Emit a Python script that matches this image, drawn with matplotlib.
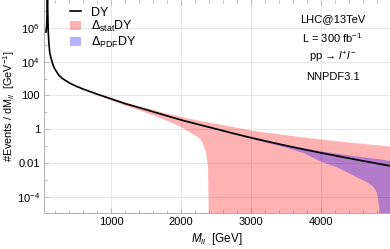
import numpy as np
import matplotlib
matplotlib.use("Agg")
import matplotlib.pyplot as plt
from matplotlib.lines import Line2D
from matplotlib.patches import Patch

plt.rcParams['font.family'] = ['Liberation Sans', 'DejaVu Sans']
plt.rcParams['mathtext.fontset'] = 'custom'
plt.rcParams['mathtext.rm'] = 'Liberation Sans'
plt.rcParams['mathtext.it'] = 'Liberation Sans:italic'

# DY spectrum, events / GeV (log10)
mass = [70, 80, 86, 91, 96, 102, 110, 125, 150, 175, 200, 250, 300, 400, 500,
        600, 700, 800, 1000, 1200, 1500, 1750, 2000, 2250, 2500, 2750, 3000,
        3250, 3500, 3750, 4000, 4250, 4500, 4750, 5000]
dy_log = [5.75, 6.1, 6.8, 8.3, 6.9, 5.9, 5.2, 4.5, 4.1, 3.75, 3.55, 3.22, 3.02,
          2.75, 2.55, 2.38, 2.23, 2.08, 1.8, 1.52, 1.16, 0.85, 0.55, 0.28, 0.02,
          -0.25, -0.5, -0.74, -0.97, -1.19, -1.4, -1.6, -1.8, -1.99, -2.18]

# statistical band (log10); -7 means below the frame
mass_stat = [500, 750, 1000, 1200, 1500, 1750, 2000, 2250, 2300, 2350, 2380, 2400,
             2500, 2750, 3000, 3250, 3500, 3750, 4000, 4250, 4500, 4750, 5000]
stat_hi = [2.57, 2.19, 1.86, 1.6, 1.27, 1.0, 0.75, 0.53, 0.49, 0.45, 0.43, 0.41,
           0.34, 0.15, -0.05, -0.19, -0.33, -0.46, -0.58, -0.7, -0.8, -0.9, -1.0]
stat_lo = [2.53, 2.12, 1.73, 1.42, 1.0, 0.61, 0.15, -0.48, -0.75, -1.3, -2.2, -7,
           -7, -7, -7, -7, -7, -7, -7, -7, -7, -7, -7]

# PDF band (log10)
mass_pdf = [1000, 1500, 2000, 2500, 3000, 3500, 3750, 4000, 4250, 4500, 4650,
            4750, 4800, 4830, 4845, 5000]
pdf_hi = [1.81, 1.17, 0.565, 0.04, -0.46, -0.9, -1.1, -1.28, -1.44, -1.58, -1.66,
          -1.71, -1.74, -1.75, -1.76, -1.86]
pdf_lo = [1.79, 1.15, 0.535, 0.0, -0.55, -1.07, -1.39, -1.9, -2.27, -2.8, -3.1,
          -3.4, -3.8, -4.6, -7, -7]

yticks = [1e-4, 1e-2, 1, 100, 1e4, 1e6]
ytick_labels = ['$10^{-4}$', '0.01', '1', '100', '$10^{4}$', '$10^{6}$']
xticks = [1000, 2000, 3000, 4000]
info = ['LHC@13TeV', 'L = 300 fb$^{-1}$', 'pp → $\\mathit{l}^{+}\\mathit{l}^{-}$', 'NNPDF3.1']

fig = plt.figure(figsize=(3.9, 2.49), dpi=100)
ax = fig.add_axes([0.113, 0.145, 0.887, 0.855])

ax.fill_between(mass_stat, 10.0**np.array(stat_lo), 10.0**np.array(stat_hi),
                color='red', alpha=0.3, lw=0)
ax.fill_between(mass_pdf, 10.0**np.array(pdf_lo), 10.0**np.array(pdf_hi),
                color='blue', alpha=0.3, lw=0)
ax.plot(mass, 10.0**np.array(dy_log), color='black', lw=1.2)

ax.set_yscale('log')
ax.set_xlim(43, 4990)
ax.set_ylim(1.1e-5, 4.5e7)
ax.set_yticks(yticks)
ax.set_yticklabels(ytick_labels)
ax.set_xticks(xticks)
ax.set_xticks(np.arange(200, 5000, 200), minor=True)
ax.yaxis.set_minor_locator(matplotlib.ticker.LogLocator(base=10, subs=[1.0], numticks=20))
ax.yaxis.set_minor_formatter(matplotlib.ticker.NullFormatter())

ax.grid(True, which='major', color='#e6e6e6', lw=0.7)
ax.set_axisbelow(True)
for s in ['top', 'right']:
    ax.spines[s].set_visible(False)
for s in ['left', 'bottom']:
    ax.spines[s].set_color('#b0b0b0')
    ax.spines[s].set_linewidth(0.7)
ax.tick_params(which='both', direction='in', color='#b0b0b0', labelsize=8,
               top=True, width=0.6)
ax.tick_params(which='major', length=3.5, pad=3)
ax.tick_params(which='minor', length=2)

ax.set_xlabel('$\\mathit{M}_{\\mathit{ll}}$  [GeV]', fontsize=8.5, labelpad=3)
ax.set_ylabel('#Events / dM$_{\\mathit{ll}}$  [GeV$^{-1}$]', fontsize=7.8)
ax.yaxis.set_label_coords(-0.078, 0.5)

handles = [Line2D([], [], color='black', lw=1.2),
           Patch(color='red', alpha=0.3, lw=0),
           Patch(color='blue', alpha=0.3, lw=0)]
labels = ['DY', 'Δ$_{\\mathrm{stat}}$DY', 'Δ$_{\\mathrm{PDF}}$DY']
ax.legend(handles, labels, loc='upper left', bbox_to_anchor=(0.05, 1.01),
          frameon=False, fontsize=9, handlelength=0.9, handletextpad=0.8,
          labelspacing=0.05, borderaxespad=0.3)

for i, t in enumerate(info):
    ax.text(0.834, 0.91 - i * 0.09, t, transform=ax.transAxes, ha='center',
            va='center', fontsize=8)

fig.savefig('out.png', dpi=100)
